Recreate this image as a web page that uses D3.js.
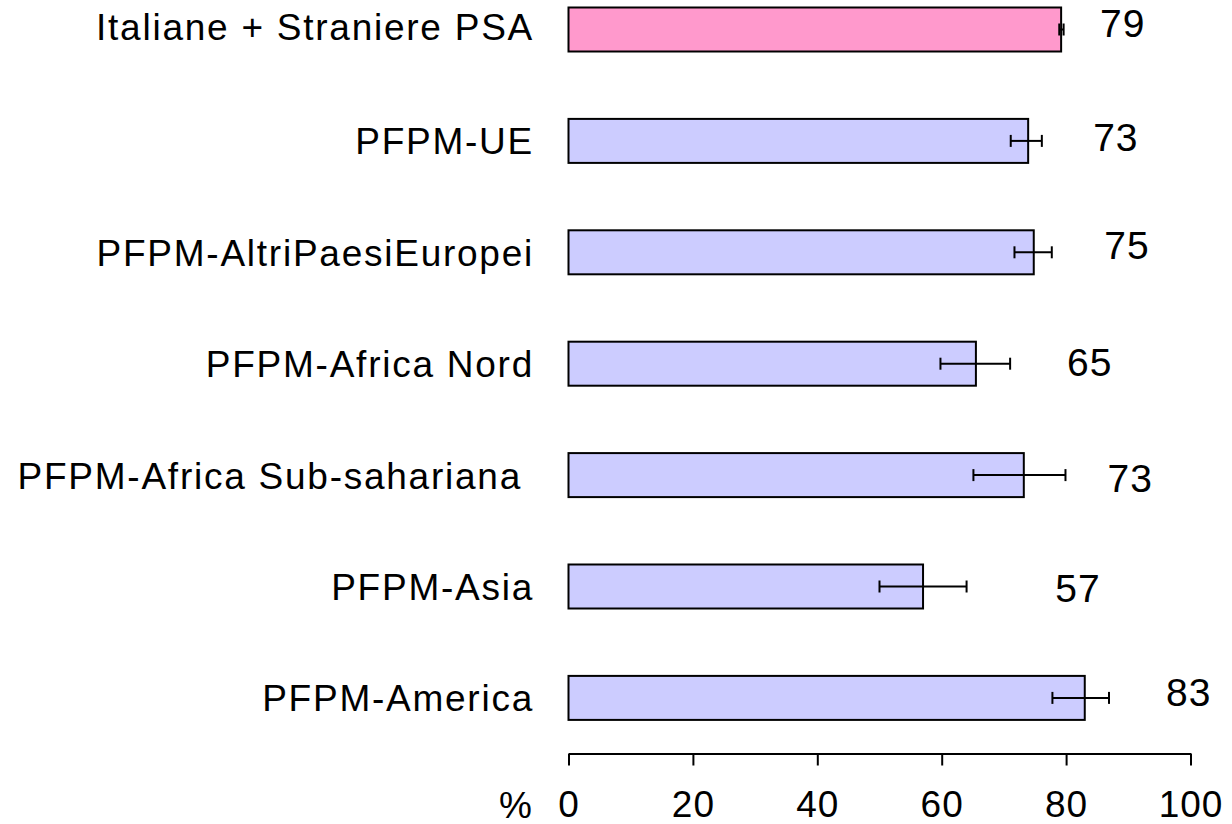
<!DOCTYPE html>
<html>
<head>
<meta charset="utf-8">
<script src="https://cdn.jsdelivr.net/npm/d3@7"></script>
<style>
  html, body { margin: 0; padding: 0; background: #ffffff; }
  svg { display: block; font-family: "Liberation Sans", Arial, sans-serif; }
</style>
</head>
<body>
<svg id="chart" width="1232" height="824"></svg>
<script>
// ---- data ----
const categories = [
  "Italiane + Straniere PSA",
  "PFPM-UE",
  "PFPM-AltriPaesiEuropei",
  "PFPM-Africa Nord",
  "PFPM-Africa Sub-sahariana ",
  "PFPM-Asia",
  "PFPM-America"
];
const values   = [79.2, 73.9, 74.8, 65.5, 73.2, 57.0, 83.0];
const errLow   = [78.9, 71.1, 71.7, 59.8, 65.1, 50.0, 77.8];
const errHigh  = [79.6, 76.1, 77.7, 71.0, 79.9, 64.0, 86.9];
const valueLabels = ["79", "73", "75", "65", "73", "57", "83"];
// label anchor position in axis units (x) and offset from bar centre (y, in band fraction)
const labelAt  = [89.1, 88.0, 89.8, 83.8, 90.3, 81.9, 99.7];
const labelDy  = [0.07, 0.09, 0.06, 0.11, 0.15, 0.135, 0.07];
const highlight = [true, false, false, false, false, false, false];
const xTicks = [0, 20, 40, 60, 80, 100];
const axisTitle = "%";

// ---- layout ----
const svg = d3.select("#chart");
const x = d3.scaleLinear().domain([0, 100]).range([568.5, 1190.5]);
const y = d3.scaleBand().domain(categories).range([-26.2, 753.6])
  .paddingInner(0.605).paddingOuter(0.3025);
const bw = y.bandwidth();
const step = y.step();

// bars
svg.append("g").selectAll("rect").data(categories).join("rect")
  .attr("x", x(0))
  .attr("y", d => y(d))
  .attr("width", (d, i) => x(values[i]) - x(0))
  .attr("height", bw)
  .attr("fill", (d, i) => highlight[i] ? "#FF99CC" : "#CCCCFF")
  .attr("stroke", "#000")
  .attr("stroke-width", 2);

// error bars
const eb = svg.append("g").attr("stroke", "#000").attr("stroke-width", 2);
categories.forEach((c, i) => {
  const cy = y(c) + bw / 2;
  eb.append("line").attr("x1", x(errLow[i])).attr("x2", x(errHigh[i])).attr("y1", cy).attr("y2", cy);
  [errLow[i], errHigh[i]].forEach(v => {
    eb.append("line").attr("x1", x(v)).attr("x2", x(v)).attr("y1", cy - 6).attr("y2", cy + 6);
  });
});

// value labels
svg.append("g").selectAll("text").data(categories).join("text")
  .attr("x", (d, i) => x(labelAt[i]))
  .attr("y", (d, i) => y(d) + bw / 2 + labelDy[i] * step)
  .attr("text-anchor", "middle")
  .attr("font-size", 39)
  .attr("letter-spacing", 1)
  .attr("fill", "#000")
  .text((d, i) => valueLabels[i]);

// category labels
svg.append("g").selectAll("text").data(categories).join("text")
  .attr("x", 534)
  .attr("y", (d, i) => y(d) + bw / 2 + (i === 0 ? 10.5 : 13.5))
  .attr("text-anchor", "end")
  .attr("font-size", 37)
  .attr("letter-spacing", 1.75)
  .style("white-space", "pre")
  .attr("fill", "#000")
  .text(d => d);

// x axis
const axisY = 753.5;
const ax = svg.append("g").attr("transform", `translate(0,${axisY})`)
  .call(d3.axisBottom(x).tickValues(xTicks).tickSize(12).tickSizeOuter(0).tickPadding(0));
ax.select(".domain").attr("stroke", "#000").attr("stroke-width", 2);
ax.selectAll(".tick line").attr("stroke", "#000").attr("stroke-width", 2);
ax.selectAll(".tick text").remove();
ax.selectAll(".tick").append("text")
  .attr("y", 63)
  .attr("text-anchor", "middle")
  .attr("font-size", 37)
  .attr("letter-spacing", 1)
  .attr("fill", "#000")
  .attr("font-family", "Liberation Sans, Arial, sans-serif")
  .text(d => d);

svg.append("text")
  .attr("x", 532)
  .attr("y", axisY + 64)
  .attr("text-anchor", "end")
  .attr("font-size", 37)
  .attr("fill", "#000")
  .text(axisTitle);
</script>
</body>
</html>
